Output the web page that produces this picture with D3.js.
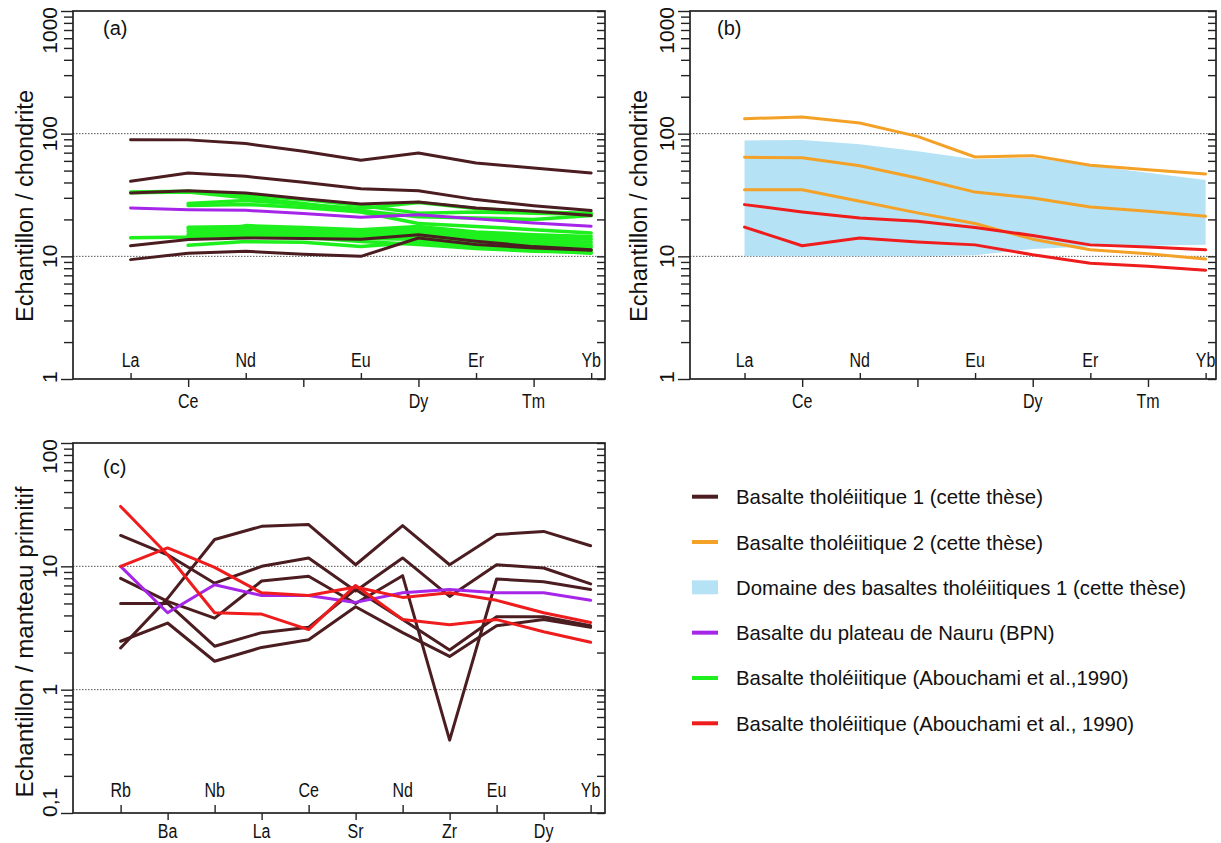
<!DOCTYPE html>
<html><head><meta charset="utf-8">
<script src="https://cdn.jsdelivr.net/npm/d3@7"></script>
<style>body{margin:0;background:#fff} svg{display:block}</style>
</head><body>
<svg id="chart" width="1221" height="843"></svg>
<script>
// ---------------- DATA ----------------
const reeElements = ["La","Ce","Nd","Sm","Eu","Dy","Er","Tm","Yb"];
const reeTickLabels = ["La","Ce","Nd","","Eu","Dy","Er","Tm","Yb"];
const spiderElements = ["Rb","Ba","Nb","La","Ce","Sr","Nd","Zr","Eu","Dy","Yb"];
const spiderTickLabels = ["Rb","Ba","Nb","La","Ce","Sr","Nd","Zr","Eu","Dy","Yb"];

const yTicksChondrite = [1, 10, 100, 1000];
const yTickTextChondrite = ["1", "10", "100", "1000"];
const yTicksMantle = [0.1, 1, 10, 100];
const yTickTextMantle = ["0,1", "1", "10", "100"];

// (a) Basalte tholéiitique 1 (cette thèse) — REE / chondrite
const tholeiite1REE = [
  [89.4, 89, 83, 72, 60.6, 69.5, 57.6, 52.5, 47.8],
  [40.9, 47.8, 44.9, 40.1, 35.6, 34.3, 29, 25.9, 23.6],
  [32.8, 34.3, 32.8, 29.5, 26.7, 27.7, 24.8, 23.3, 21.5],
  [12.2, 13.7, 14.1, 14.0, 13.8, 15.0, 13.3, 12.0, 11.3],
  [9.4, 10.6, 11.0, 10.4, 10.0, 14.1, 12.5, 11.7, 11.2]
];
// (a) Basalte du plateau de Nauru (BPN)
const nauruREE = [24.8, 24.0, 23.7, 22.3, 20.8, 21.8, 20.2, 18.7, 17.6];
// (a) Basalte tholéiitique (Abouchami et al., 1990) — green
const abouchamiGreenREE = [
  [33.5, 34, 31.5, 29, 26, 22.5, 23, 22.5, 22],
  [null, 27, 28.5, 26.5, 24.5, 27.5, 24.5, 23, 22.5],
  [33, 33.5, 30, 27, 23.5, 21, 20.5, 20, 21.5],
  [null, 26, 26.5, 25, 23, 18.5, 17.5, 16.5, 15.5],
  [14.2, 14.4, 17.8, 17.2, 16.5, 17.5, 15.8, 15, 14.5],
  [null, 17.3, 17.5, 16.8, 16, 16.8, 15.2, 14.3, 13.8],
  [null, 16.8, 17, 16.3, 15.5, 16, 14.5, 13.6, 13],
  [null, 16, 16.5, 15.8, 15, 15.3, 14, 13, 12.3],
  [null, 15.2, 16, 15.2, 14.5, 14.6, 13.3, 12.4, 11.8],
  [null, 14.7, 15.3, 14.8, 14, 13.8, 12.7, 11.9, 11.2],
  [null, 12.3, 13.2, 13, 12, 13, 12, 11.2, 10.6],
  [null, 14.5, 14.8, 14.3, 13.2, 12.5, 11.6, 11, 10.8]
];

// (b) Domaine des basaltes tholéiitiques 1 (envelope)
const domainHigh = [88, 89, 82, 72, 62, 64, 55, 48, 42];
const domainLow = [10, 10, 10, 10, 10.2, 11.5, 12, 12.2, 12.4];
// (b) Basalte tholéiitique 2 (cette thèse)
const tholeiite2REE = [
  [132.5, 136.8, 122, 95, 64.5, 66.2, 55.2, 50.9, 46.9],
  [64.1, 63.7, 54.8, 43.5, 33.4, 29.9, 25.2, 23.3, 21.2],
  [34.9, 34.9, 28.1, 22.6, 18.5, 13.8, 11.3, 10.5, 9.5]
];
// (b) Basalte tholéiitique (Abouchami et al., 1990) — red
const abouchamiRedREE = [
  [26.4, 23.0, 20.5, 19.3, 17.2, 14.8, 12.4, 11.9, 11.3],
  [17.3, 12.2, 14.1, 13.1, 12.4, 10.3, 8.8, 8.3, 7.7]
];

// (c) spider diagram / manteau primitif
const tholeiite1Spider = [
  [2.18, 5.5, 16.5, 21.1, 21.8, 10.3, 21.4, 10.3, 18.1, 19.2, 14.7],
  [17.8, 12.4, 7.3, 10.0, 11.7, 6.3, 11.7, 5.7, 10.3, 9.7, 7.2],
  [8.0, 5.2, 3.8, 7.6, 8.3, 5.0, 8.4, 0.39, 7.9, 7.5, 6.5],
  [5.0, 5.0, 2.25, 2.9, 3.2, 6.5, 3.7, 2.1, 3.9, 3.9, 3.3],
  [2.47, 3.47, 1.70, 2.2, 2.54, 4.7, 2.9, 1.86, 3.3, 3.7, 3.2]
];
const nauruSpider = [10, 4.2, 7.1, 5.8, 5.8, 5.1, 6.1, 6.5, 6.1, 6.1, 5.3];
const abouchamiRedSpider = [
  [30.6, 12.4, 4.2, 4.1, 3.07, 7.0, 3.7, 3.36, 3.7, 2.95, 2.42],
  [10.0, 14.1, 9.8, 6.1, 5.8, 6.8, 5.6, 6.1, 5.3, 4.2, 3.5]
];

const legendLabels = [
  "Basalte tholéiitique 1 (cette thèse)",
  "Basalte tholéiitique 2 (cette thèse)",
  "Domaine des basaltes tholéiitiques 1 (cette thèse)",
  "Basalte du plateau de Nauru (BPN)",
  "Basalte tholéiitique (Abouchami et al.,1990)",
  "Basalte tholéiitique (Abouchami et al., 1990)"
];

// ---------------- STYLE ----------------
const C = {
  brown: "#4b1d20", orange: "#f4a128", blue: "#b5e3f5",
  purple: "#a526e8", green: "#1ef01e", red: "#ee1c1c", frame: "#222"
};
const FONT = "'Liberation Sans', Arial, Helvetica, sans-serif";
const svg = d3.select("#chart");

function fitText(sel, factor) {
  sel.each(function () {
    const w = this.getComputedTextLength();
    if (w > 0) d3.select(this).attr("textLength", w * factor).attr("lengthAdjust", "spacingAndGlyphs");
  });
}

function drawPanel(cfg) {
  const g = svg.append("g");
  const x = d3.scaleLinear().domain(cfg.xDomain).range([cfg.left, cfg.right]);
  const y = d3.scaleLog().domain(cfg.yDomain).range([cfg.bottom, cfg.top]);

  cfg.grid.forEach(v => {
    g.append("line").attr("x1", cfg.left).attr("x2", cfg.right)
      .attr("y1", y(v)).attr("y2", y(v))
      .attr("stroke", "#555").attr("stroke-width", 1).attr("stroke-dasharray", "1.5,1.5");
  });

  const clip = "clip" + cfg.tag.replace(/[()]/g, "");
  svg.append("clipPath").attr("id", clip).append("rect")
    .attr("x", cfg.left).attr("y", cfg.top).attr("width", cfg.right - cfg.left).attr("height", cfg.bottom - cfg.top);
  const plot = g.append("g").attr("clip-path", `url(#${clip})`);
  cfg.draw(plot, x, y);

  g.append("rect").attr("x", cfg.left).attr("y", cfg.top)
    .attr("width", cfg.right - cfg.left).attr("height", cfg.bottom - cfg.top)
    .attr("fill", "none").attr("stroke", C.frame).attr("stroke-width", 1.7);

  const allTicks = y.ticks();
  const left = g.append("g").attr("transform", `translate(${cfg.left},0)`)
    .call(d3.axisLeft(y).tickValues(allTicks).tickSize(9).tickFormat(""));
  const right = g.append("g").attr("transform", `translate(${cfg.right},0)`)
    .call(d3.axisLeft(y).tickValues(allTicks).tickSize(8).tickFormat(""));
  [left, right].forEach(a => {
    a.select(".domain").remove();
    a.selectAll("line").attr("stroke", C.frame).attr("stroke-width", 1.4);
  });
  left.selectAll(".tick").filter(d => cfg.yTicks.includes(d)).select("line").attr("x2", -12);

  cfg.yTicks.forEach((v, i) => {
    const t = g.append("text").attr("font-family", FONT).attr("font-size", 21)
      .attr("fill", "#111").attr("text-anchor", "middle").text(cfg.yTickText[i]);
    const len = t.node().getComputedTextLength();
    let cy = y(v);
    const tol = 4;
    if (cy - len / 2 < cfg.top - tol) cy = cfg.top - tol + len / 2;
    if (cy + len / 2 > cfg.bottom + tol) cy = cfg.bottom + tol - len / 2;
    t.attr("transform", `translate(${cfg.tickLabelX},${cy}) rotate(-90)`);
  });

  g.append("text").attr("font-family", FONT).attr("font-size", 23.5).attr("fill", "#111")
    .attr("text-anchor", "middle")
    .attr("transform", `translate(${cfg.titleX},${cfg.titleCenter}) rotate(-90)`)
    .attr("textLength", cfg.titleLen).attr("lengthAdjust", "spacingAndGlyphs")
    .text(cfg.title);

  const idx = d3.range(cfg.labels.length);
  const evens = idx.filter(i => i % 2 === 0), odds = idx.filter(i => i % 2 === 1);
  const up = g.append("g").attr("transform", `translate(0,${cfg.bottom})`)
    .call(d3.axisTop(x).tickValues(evens).tickSize(cfg.upTick).tickFormat(""));
  const down = g.append("g").attr("transform", `translate(0,${cfg.bottom})`)
    .call(d3.axisBottom(x).tickValues(odds).tickSize(cfg.downTick).tickFormat(""));
  [up, down].forEach(a => {
    a.select(".domain").remove();
    a.selectAll("line").attr("stroke", C.frame).attr("stroke-width", 1.4);
  });

  const lab = g.append("g");
  idx.forEach(i => {
    if (!cfg.labels[i]) return;
    lab.append("text").attr("x", x(i)).attr("y", i % 2 === 0 ? cfg.topBase : cfg.botBase)
      .attr("font-family", FONT).attr("font-size", 19.5).attr("fill", "#111")
      .attr("text-anchor", "middle").text(cfg.labels[i]);
  });
  fitText(lab.selectAll("text"), 0.82);

  g.append("text").attr("x", cfg.tagX).attr("y", cfg.tagY).attr("font-family", FONT)
    .attr("font-size", 20).attr("fill", "#111").text(cfg.tag);
}

function drawLines(g, x, y, data, color, width) {
  const gen = d3.line().defined(d => d != null).x((d, i) => x(i)).y(d => y(d));
  g.append("g").selectAll("path").data(data).join("path")
    .attr("d", gen).attr("fill", "none").attr("stroke", color)
    .attr("stroke-width", width).attr("stroke-linejoin", "round").attr("stroke-linecap", "round");
}

// ---------------- PANEL (a) ----------------
drawPanel({
  left: 73, right: 605, top: 11, bottom: 379,
  xDomain: [-1.0, 8.24], yDomain: [1, 1000], grid: [10, 100],
  yTicks: yTicksChondrite, yTickText: yTickTextChondrite,
  labels: reeTickLabels, topBase: 367, botBase: 408, upTick: 6, downTick: 8,
  tickLabelX: 57, title: "Echantillon / chondrite", titleX: 33, titleCenter: 206, titleLen: 232,
  tag: "(a)", tagX: 103, tagY: 35,
  draw: (g, x, y) => {
    drawLines(g, x, y, abouchamiGreenREE, C.green, 3.5);
    drawLines(g, x, y, tholeiite1REE, C.brown, 3);
    drawLines(g, x, y, [nauruREE], C.purple, 3);
  }
});

// ---------------- PANEL (b) ----------------
drawPanel({
  left: 690, right: 1216, top: 11, bottom: 379,
  xDomain: [-0.946, 8.18], yDomain: [1, 1000], grid: [10, 100],
  yTicks: yTicksChondrite, yTickText: yTickTextChondrite,
  labels: reeTickLabels, topBase: 367, botBase: 408, upTick: 6, downTick: 8,
  tickLabelX: 674, title: "Echantillon / chondrite", titleX: 647, titleCenter: 206, titleLen: 232,
  tag: "(b)", tagX: 717, tagY: 35,
  draw: (g, x, y) => {
    const area = d3.area().x((d, i) => x(i)).y0((d, i) => y(domainLow[i])).y1(d => y(d));
    g.append("path").datum(domainHigh).attr("d", area).attr("fill", C.blue);
    drawLines(g, x, y, tholeiite2REE, C.orange, 3);
    drawLines(g, x, y, abouchamiRedREE, C.red, 3);
  }
});

// ---------------- PANEL (c) ----------------
drawPanel({
  left: 73, right: 605, top: 443, bottom: 813,
  xDomain: [-1.013, 10.306], yDomain: [0.1, 100], grid: [1, 10],
  yTicks: yTicksMantle, yTickText: yTickTextMantle,
  labels: spiderTickLabels, topBase: 797, botBase: 838, upTick: 8, downTick: 7,
  tickLabelX: 57, title: "Echantillon / manteau primitif", titleX: 33, titleCenter: 642, titleLen: 311,
  tag: "(c)", tagX: 103, tagY: 474,
  draw: (g, x, y) => {
    drawLines(g, x, y, tholeiite1Spider, C.brown, 3);
    drawLines(g, x, y, [nauruSpider], C.purple, 3);
    drawLines(g, x, y, abouchamiRedSpider, C.red, 3);
  }
});

// ---------------- LEGEND ----------------
const legendKinds = ["line", "line", "rect", "line", "line", "line"];
const legendColors = [C.brown, C.orange, C.blue, C.purple, C.green, C.red];
const legendWidths = [307, 307, 450, 318.5, 392.5, 398];
const legendRowY = d3.scaleLinear().domain([0, 5]).range([496.7, 723.3]);
const lg = svg.append("g");
legendLabels.forEach((txt, i) => {
  const cy = legendRowY(i);
  if (legendKinds[i] === "rect") {
    lg.append("rect").attr("x", 692).attr("y", cy - 7).attr("width", 26).attr("height", 14).attr("fill", legendColors[i]);
  } else {
    lg.append("line").attr("x1", 692).attr("x2", 718).attr("y1", cy).attr("y2", cy)
      .attr("stroke", legendColors[i]).attr("stroke-width", 4);
  }
  lg.append("text").attr("x", 736).attr("y", cy + 7.5).attr("font-family", FONT)
    .attr("font-size", 21).attr("fill", "#111")
    .attr("textLength", legendWidths[i]).attr("lengthAdjust", "spacingAndGlyphs").text(txt);
});
</script>
</body></html>
